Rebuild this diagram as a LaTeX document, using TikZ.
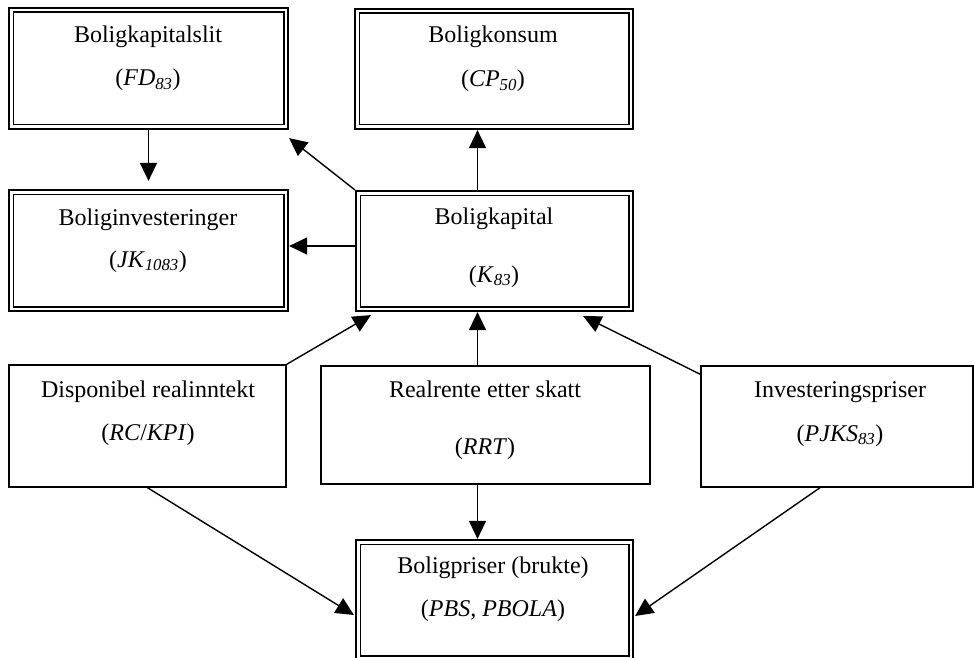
\documentclass[tikz,border=0pt]{standalone}
\usepackage{fontspec}
\setmainfont{Liberation Serif}
\usetikzlibrary{arrows.meta,calc}
\newcommand{\vsub}[1]{\textsubscript{\itshape #1}}
\begin{document}
\begin{tikzpicture}[x=1pt,y=-1pt,
  dbox/.style={draw, line width=2.2pt, inner sep=0pt,
    path picture={\draw[line width=1.8pt]
      ([shift={(4.4pt,4.4pt)}]path picture bounding box.south west) rectangle
      ([shift={(-4.4pt,-4.4pt)}]path picture bounding box.north east);}},
  sbox/.style={draw, line width=1.4pt, inner sep=0pt},
  txt/.style={anchor=base, inner sep=0pt, font=\fontsize{24}{28}\selectfont},
  arr/.style={-{Triangle[length=18pt,width=17pt]}, line width=1.4pt}]
\useasboundingbox (0,0) rectangle (974,658);

% model blocks
\node[dbox, minimum width=279pt, minimum height=121pt] (b1) at (148.5,68.5) {};
\node[dbox, minimum width=278pt, minimum height=120pt] (b2) at (494,69) {};
\node[dbox, minimum width=279pt, minimum height=121pt] (b3) at (148.5,250.5) {};
\node[dbox, minimum width=277pt, minimum height=120pt] (b4) at (494.5,251) {};
\node[sbox, minimum width=277pt, minimum height=122pt] (b5) at (147.5,426) {};
\node[sbox, minimum width=329pt, minimum height=118pt] (b6) at (485.5,425) {};
\node[sbox, minimum width=272pt, minimum height=121pt] (b7) at (837,426.5) {};
\node[dbox, minimum width=277pt, minimum height=120pt] (b8) at (494.5,600) {};

% labels
\node[txt] (t1a) at (148,43) {Boligkapitalslit};
\node[txt] (t1b) at (148,86) {(\textit{FD}\vsub{83})};
\node[txt] (t2a) at (493,43) {Boligkonsum};
\node[txt] (t2b) at (493,87) {(\textit{CP}\vsub{50})};
\node[txt] (t3a) at (148,225) {Boliginvesteringer};
\node[txt] (t3b) at (148,267) {(\textit{JK}\vsub{1083})};
\node[txt] (t4a) at (494,224) {Boligkapital};
\node[txt] (t4b) at (494,282) {(\textit{K}\vsub{83})};
\node[txt] (t5a) at (148,397) {Disponibel realinntekt};
\node[txt] (t5b) at (148,440) {(\textit{RC}/\textit{KPI})};
\node[txt] (t6a) at (485,397) {Realrente etter skatt};
\node[txt] (t6b) at (485,454) {(\textit{RRT})};
\node[txt] (t7a) at (840,397) {Investeringspriser};
\node[txt] (t7b) at (840,441) {(\textit{PJKS}\vsub{83})};
\node[txt] (t8a) at (493,573) {Boligpriser (brukte)};
\node[txt] (t8b) at (493,616) {(\textit{PBS, PBOLA})};

% column of the vertical links through the centre, row of the side link
\coordinate (col) at (477.5,0);
\coordinate (row) at (0,246);

% links
\draw[arr, shorten >=8pt] (b1.south) -- (b3.north);
\draw[arr] (b4.north west) -- ($(b1.south east)+(0,8)$);
\draw[arr] (b4.north -| col) -- (b2.south -| col);
\draw[arr] (b4.west |- row) -- (b3.east |- row);
\draw[arr] (b5.north east) -- ($(b4.south west)+(16,3)$);
\draw[arr] (b6.north -| col) -- (b4.south -| col);
\draw[arr] ($(b7.north west)+(0,9)$) -- ($(b4.south east)+(-51,4)$);
\draw[arr] (b6.south -| col) -- (b8.north -| col);
\draw[arr] (b5.south) -- ($(b8.west)+(-1,15)$);
\draw[arr] ($(b7.south)+(-17,0)$) -- ($(b8.east)+(1,16)$);
\end{tikzpicture}
\end{document}
